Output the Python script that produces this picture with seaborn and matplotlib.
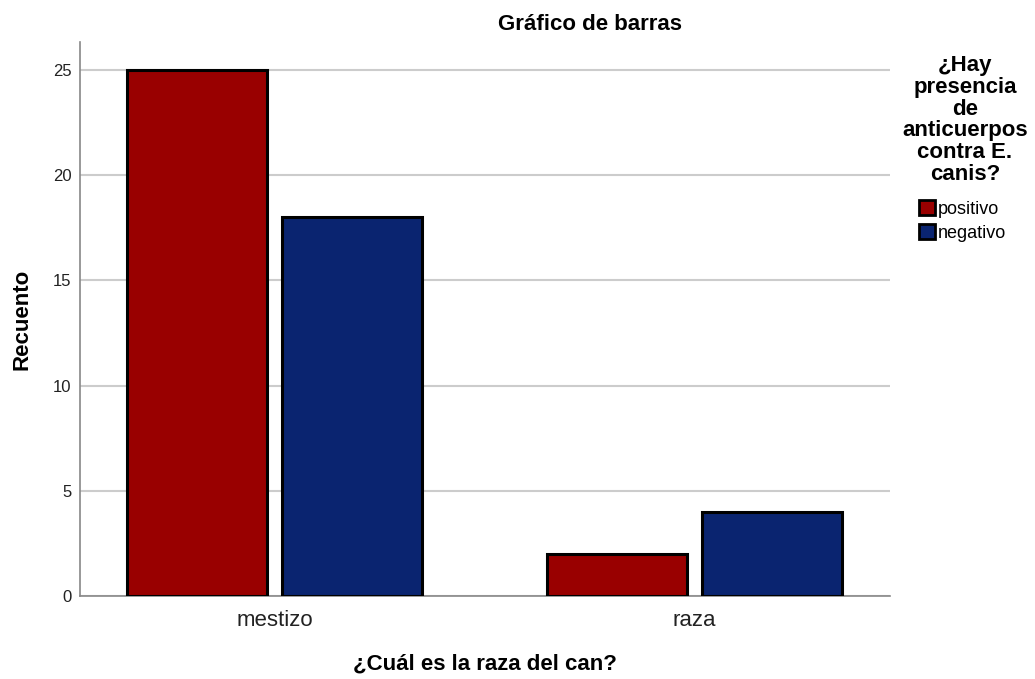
import matplotlib
matplotlib.use("Agg")
import matplotlib.pyplot as plt
import seaborn as sns
import pandas as pd
from matplotlib.patches import Patch

categories = ["mestizo", "raza"]
groups = ["positivo", "negativo"]
positivo = [25, 2]
negativo = [18, 4]
colors = {"positivo": "#990000", "negativo": "#0A2470"}

df = pd.DataFrame({
    "raza": categories * 2,
    "grupo": ["positivo"] * 2 + ["negativo"] * 2,
    "n": positivo + negativo,
})

sns.set_style("white")
plt.rcParams["font.family"] = ["Liberation Sans", "DejaVu Sans"]
plt.rcParams["text.color"] = "black"
plt.rcParams["axes.labelcolor"] = "black"

W, H = 1035, 679
fig = plt.figure(figsize=(W / 100, H / 100), dpi=100)
ax = fig.add_axes([80 / W, (H - 596) / H, 810 / W, (596 - 42) / H])

sns.barplot(data=df, x="raza", y="n", hue="grupo", hue_order=groups,
            order=categories, palette=colors, saturation=1, width=0.738, gap=0.097,
            edgecolor="black", linewidth=2.2, ax=ax, legend=False, zorder=3)

ax.set_xlim(-0.463, 1.465)
ax.set_ylim(0, 26.33)
ax.set_yticks([0, 5, 10, 15, 20, 25])
ax.yaxis.grid(True, color="#cccccc", linewidth=1.5, zorder=0)
ax.set_axisbelow(True)
for s in ["top", "right"]:
    ax.spines[s].set_visible(False)
for s in ["left", "bottom"]:
    ax.spines[s].set_color("#888888")
    ax.spines[s].set_linewidth(1.2)
ax.tick_params(axis="both", length=0)
ax.tick_params(axis="y", labelsize=12, pad=6, colors="#222222")
ax.tick_params(axis="x", labelsize=16, pad=10, colors="#222222")

ax.set_xlabel("¿Cuál es la raza del can?", fontsize=16, fontweight="bold")
ax.set_ylabel("Recuento", fontsize=16, fontweight="bold")
ax.xaxis.set_label_coords(0.5, (596 - 664) / 554)
ax.xaxis.label.set_va("center")
ax.yaxis.set_label_coords((22 - 80) / 810, 0.5)
ax.yaxis.label.set_va("center")

fig.text(590 / W, 1 - 24 / H, "Gráfico de barras", ha="center", va="center",
         fontsize=16, fontweight="bold")

fig.text(965 / W, 1 - 120 / H,
         "¿Hay\npresencia\nde\nanticuerpos\ncontra E.\ncanis?",
         ha="center", va="center", multialignment="center",
         fontsize=16, fontweight="bold", linespacing=1.04)

handles = [Patch(facecolor=colors[g], edgecolor="black", linewidth=2) for g in groups]
fig.legend(handles, groups, loc="upper left", bbox_to_anchor=(919 / W, 1 - 200 / H),
           frameon=False, handlelength=0.9, handleheight=0.9, handletextpad=0.15,
           labelspacing=0.35, borderpad=0, borderaxespad=0,
           prop={"size": 13})

fig.savefig("out.png", dpi=100)
